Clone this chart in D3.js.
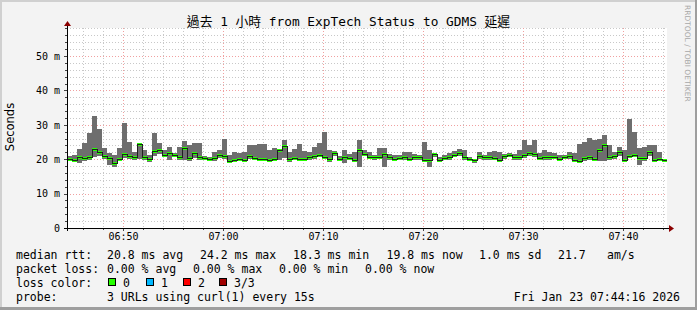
<!DOCTYPE html>
<html><head><meta charset="utf-8">
<script src="https://cdn.jsdelivr.net/npm/d3@7"></script>
<style>
body{margin:0;background:#f3f3f3;overflow:hidden}
text{font-family:"DejaVu Sans Mono","Noto Sans CJK TC",monospace;fill:#000}
</style>
</head><body>
<svg id="c" width="697" height="310"></svg>
<script>
// ---- data (ms), one sample per 30 s step ----
const medianRtt = [20.1,19.8,20.5,20.3,20.5,22.9,22.2,20.9,20.3,19.0,
20.1,21.5,20.9,20.5,24.3,20.5,20.0,22.5,22.7,21.2,
21.7,21.2,20.5,23.2,20.3,21.7,20.5,20.3,20.0,20.3,
21.2,20.9,19.6,19.8,20.0,19.8,20.9,20.4,20.1,20.1,
19.8,20.1,22.7,23.8,20.0,20.3,20.0,20.0,20.5,20.9,
21.2,20.7,20.1,21.9,20.0,20.5,20.3,19.8,22.7,21.5,
20.7,20.5,20.7,21.5,20.5,20.0,20.3,20.5,20.1,20.5,
20.5,19.8,19.8,21.5,19.8,20.4,20.5,21.2,21.9,20.5,
20.0,19.8,20.9,20.5,20.5,20.3,19.8,20.9,21.2,20.5,
20.5,21.2,21.7,21.5,20.3,20.5,20.5,20.7,20.0,20.7,
20.9,19.8,19.6,20.3,20.5,20.0,22.7,24.2,20.5,20.9,
22.2,19.8,20.9,21.2,20.3,20.3,22.2,19.8,20.0,19.8];
const minRtt = [19.6,19.2,18.8,19.4,19.8,20.6,20.9,20.1,18.4,17.6,
19.5,20.3,20.2,19.9,20.0,19.8,19.3,20.9,21.4,20.5,
19.8,20.6,19.9,19.8,19.5,20.4,19.9,19.7,19.4,19.6,
20.4,20.2,19.0,19.2,19.5,19.2,20.1,19.8,19.6,19.5,
19.2,19.5,19.9,20.4,19.3,19.7,19.4,19.5,19.9,20.2,
20.5,20.0,19.3,20.8,19.4,19.0,19.7,19.2,17.6,20.8,
20.0,19.9,20.0,17.6,19.9,19.4,19.7,19.9,19.5,19.9,
19.9,19.3,17.6,20.6,19.3,19.8,19.9,20.5,21.0,19.9,
19.4,19.0,20.2,19.9,19.9,19.7,19.3,20.2,20.5,19.9,
19.9,20.4,20.8,20.7,19.7,19.9,19.9,20.1,19.4,20.1,
20.2,19.3,19.0,19.6,19.7,19.4,19.5,19.5,19.9,20.2,
21.0,19.3,20.3,20.5,18.3,19.6,20.8,19.2,19.4,19.3];
const maxRtt = [20.9,21.2,23.0,24.8,27.5,32.6,28.8,23.2,21.7,21.2,
23.2,30.4,25.1,22.2,24.6,22.7,21.2,27.5,24.6,22.7,
23.6,21.7,23.6,25.3,24.1,24.6,24.6,20.9,20.5,22.2,
22.7,25.8,21.2,22.2,21.7,22.2,24.1,24.1,24.4,24.4,
22.7,23.2,22.9,25.6,22.2,22.9,24.4,22.5,22.2,23.6,
24.8,28.0,22.7,22.3,20.9,22.7,21.5,22.2,25.6,22.7,
22.2,21.2,23.2,23.2,21.5,21.2,21.2,22.2,22.2,21.5,
21.2,25.1,22.7,21.9,20.5,21.2,21.9,22.5,22.9,22.7,
20.5,20.2,22.2,21.2,22.2,22.5,22.2,21.5,21.7,21.5,
22.7,25.6,24.1,25.6,21.7,22.7,22.2,21.7,21.2,21.2,
22.2,21.7,24.4,25.1,26.1,25.6,25.8,27.0,24.1,22.2,
23.6,22.7,31.6,28.0,23.2,23.6,24.1,24.1,22.2,20.2];
const yTickValues = [0,10,20,30,40,50];
const xTickLabels = ["06:50","07:00","07:10","07:20","07:30","07:40"];
const titleText = "過去 1 小時 from ExpTech Status to GDMS 延遲";
const legendRows = [
  [["median rtt:",16],["20.8 ms avg",107],["24.2 ms max",200],["18.3 ms min",293],["19.8 ms now",386.5],["1.0 ms sd",479],["21.7",558],["am/s",607]],
  [["packet loss:",16],["0.00 % avg",107],["0.00 % max",193],["0.00 % min",279],["0.00 % now",365]],
  [["loss color:",16]],
  [["probe:",16],["3 URLs using curl(1) every 15s",107]]
];
const lossLabels = ["0","1","2","3/3"];
const lossColors = ["#26ff00","#00b8ff","#ff0000","#a00000"];
const stampText = "Fri Jan 23 07:44:16 2026";

// ---- layout ----
const svg = d3.select("#c");
const L=67,R=667,T=28,B=228;
const t0 = new Date(2026,0,23,6,44,24), t1 = new Date(2026,0,23,7,44,24);
const stepMs = 30000;
const x = d3.scaleTime().domain([t0,t1]).range([L,R]);
const y = d3.scaleLinear().domain([0,58.14]).range([B,T]);

// background & borders
svg.append("rect").attr("width",697).attr("height",310).attr("fill","#f3f3f3");
svg.append("rect").attr("x",0).attr("y",0).attr("width",697).attr("height",2).attr("fill","#d0d0d0");
svg.append("rect").attr("x",0).attr("y",0).attr("width",2).attr("height",310).attr("fill","#d0d0d0");
svg.append("rect").attr("x",0).attr("y",307).attr("width",697).attr("height",3).attr("fill","#9e9e9e");
svg.append("rect").attr("x",695).attr("y",0).attr("width",2).attr("height",310).attr("fill","#9e9e9e");
svg.append("rect").attr("x",L).attr("y",T).attr("width",R-L).attr("height",B-T).attr("fill","#ffffff");

// grid
const g = svg.append("g").attr("shape-rendering","crispEdges");
const minorX = x.ticks(d3.timeMinute.every(2));
const majorX = x.ticks(d3.timeMinute.every(10));
const minorY = d3.range(2,58.14,2);
minorX.forEach(d=>{ if(d.getMinutes()%10!==0) g.append("line").attr("x1",Math.round(x(d))+0.5).attr("x2",Math.round(x(d))+0.5).attr("y1",T).attr("y2",B).attr("stroke","#c8c8c8").attr("stroke-dasharray","1,2");});
minorY.forEach(v=>{ if(v%10!==0) g.append("line").attr("y1",Math.round(y(v))+0.5).attr("y2",Math.round(y(v))+0.5).attr("x1",L).attr("x2",R).attr("stroke","#c8c8c8").attr("stroke-dasharray","1,2");});
majorX.forEach(d=>g.append("line").attr("x1",Math.round(x(d))+0.5).attr("x2",Math.round(x(d))+0.5).attr("y1",T).attr("y2",B).attr("stroke","#f0a0a0").attr("stroke-dasharray","1,2"));
yTickValues.filter(v=>v>0).forEach(v=>g.append("line").attr("y1",Math.round(y(v))+0.5).attr("y2",Math.round(y(v))+0.5).attr("x1",L).attr("x2",R).attr("stroke","#f0a0a0").attr("stroke-dasharray","1,2"));

// data
const data = medianRtt.map((m,i)=>({t:new Date(+t0+i*stepMs), t2:new Date(+t0+(i+1)*stepMs), med:m, lo:minRtt[i], hi:maxRtt[i]}));
const dg = svg.append("g").attr("shape-rendering","crispEdges");
dg.selectAll("rect.smoke").data(data).join("rect").attr("class","smoke")
  .attr("x",d=>x(d.t)).attr("width",d=>x(d.t2)-x(d.t))
  .attr("y",d=>Math.round(y(d.hi))).attr("height",d=>Math.round(y(d.lo))-Math.round(y(d.hi)))
  .attr("fill","#6e6e6e");
const stepData = data.concat([{t:t1,med:data[data.length-1].med}]);
svg.append("path").datum(stepData)
  .attr("d",d3.line().x(d=>x(d.t)).y(d=>Math.round(y(d.med))+0.5).curve(d3.curveStepAfter))
  .attr("fill","none").attr("stroke","#202020").attr("stroke-width",1).attr("shape-rendering","crispEdges");
dg.selectAll("rect.med").data(data).join("rect").attr("class","med")
  .attr("x",d=>x(d.t)).attr("width",d=>x(d.t2)-x(d.t))
  .attr("y",d=>Math.round(y(d.med))-1).attr("height",3)
  .attr("fill",lossColors[0]);

// axes
const xa = svg.append("g").attr("transform",`translate(0,${B})`)
  .call(d3.axisBottom(x).tickValues(majorX).tickFormat(d3.timeFormat("%H:%M")).tickSize(0).tickPadding(5));
xa.select(".domain").remove();
xa.selectAll("text").style("font-size","10px").style("font-family","DejaVu Sans Mono");
const ya = svg.append("g").attr("transform",`translate(${L},0)`)
  .call(d3.axisLeft(y).tickValues(yTickValues).tickFormat(v=>v===0?"0":v+" m").tickSize(0).tickPadding(7));
ya.select(".domain").remove();
ya.selectAll("text").style("font-size","10px").style("font-family","DejaVu Sans Mono");

const ax = svg.append("g").attr("shape-rendering","crispEdges");
minorX.forEach(d=>ax.append("line").attr("x1",Math.round(x(d))+0.5).attr("x2",Math.round(x(d))+0.5).attr("y1",B).attr("y2",B+(d.getMinutes()%10===0?3:2)).attr("stroke","#444"));
minorY.concat([0]).forEach(v=>ax.append("line").attr("y1",Math.round(y(v))+0.5).attr("y2",Math.round(y(v))+0.5).attr("x1",L-(v%10===0?3:2)).attr("x2",L).attr("stroke","#444"));
ax.append("line").attr("x1",L-3).attr("x2",R+3).attr("y1",B+0.5).attr("y2",B+0.5).attr("stroke","#000");
ax.append("line").attr("x1",L+0.5).attr("x2",L+0.5).attr("y1",B+3).attr("y2",T-4).attr("stroke","#000");
svg.append("path").attr("d",`M${R+2},${B-3}L${R+7},${B+0.5}L${R+2},${B+4}Z`).attr("fill","#8b0000");
svg.append("path").attr("d",`M${L-3},${T-2}L${L+0.5},${T-7}L${L+4},${T-2}Z`).attr("fill","#8b0000");

// title
svg.append("text").attr("x",348.5).attr("y",26).attr("text-anchor","middle").style("font-size","12.8px").text(titleText);
// y label
svg.append("text").attr("transform","translate(14,127) rotate(-90)").attr("text-anchor","middle").style("font-size","11.5px").style("font-family","DejaVu Sans").text("Seconds");
// watermark
svg.append("text").attr("transform","translate(685,5) rotate(90)").style("font-size","7.5px").style("font-family","DejaVu Sans").style("fill","#a8a8a8").text("RRDTOOL / TOBI OETIKER");

// legend
const lg = svg.append("g").style("font-size","11.5px");
const rowY = [258.5,272.5,286.5,300.5];
legendRows.forEach((row,r)=>row.forEach(([s,px])=>lg.append("text").attr("x",px).attr("y",rowY[r]).attr("xml:space","preserve").text(s)));
const boxX = [108,146,183,219];
lossLabels.forEach((s,i)=>{
  lg.append("rect").attr("x",boxX[i]+0.5).attr("y",278.5).attr("width",7).attr("height",7).attr("fill",lossColors[i]).attr("stroke","#000").attr("shape-rendering","crispEdges");
  lg.append("text").attr("x",boxX[i]+15).attr("y",rowY[2]).text(s);
});
lg.append("text").attr("x",680).attr("y",rowY[3]).attr("text-anchor","end").text(stampText);
</script>
</body></html>
